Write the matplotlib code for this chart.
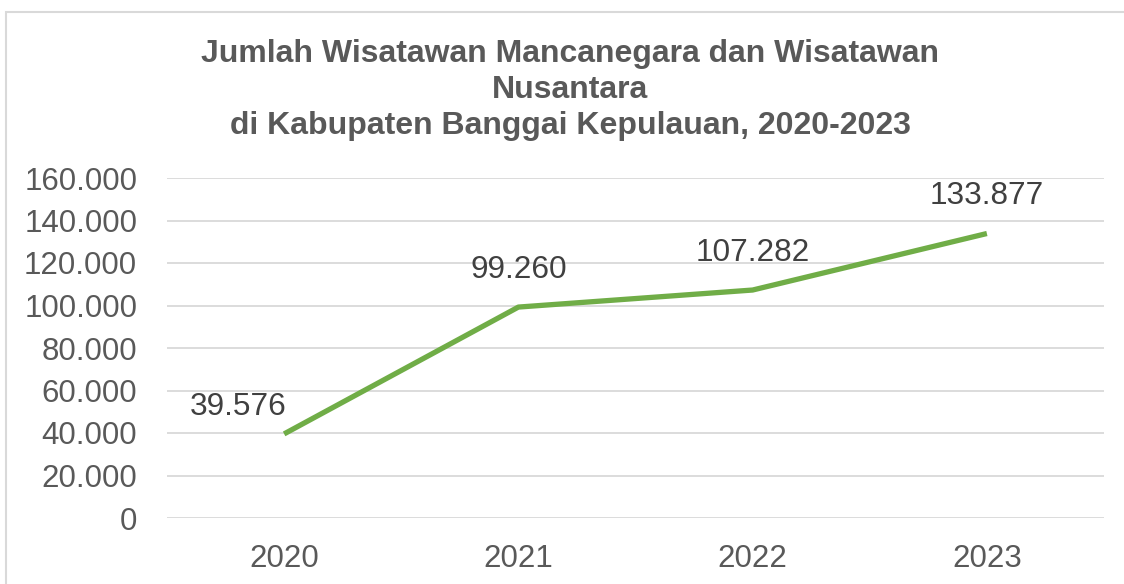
import matplotlib
matplotlib.use("Agg")
import matplotlib.pyplot as plt
from matplotlib.patches import Rectangle
from matplotlib.ticker import FuncFormatter

# data
years = ["2020", "2021", "2022", "2023"]
visitors = [39576, 99260, 107282, 133877]
y_ticks = [0, 20000, 40000, 60000, 80000, 100000, 120000, 140000, 160000]

plt.rcParams['font.family'] = ['Liberation Sans', 'DejaVu Sans']

W, H = 1124, 584
fig = plt.figure(figsize=(W / 100, H / 100), dpi=100)
fig.patch.set_facecolor('white')

# outer chart frame (cut off at right/bottom like the screenshot)
fig.patches.append(Rectangle((6 / W, -0.1), 1.2, 1 - 12 / H + 0.1,
                             transform=fig.transFigure, fill=False,
                             edgecolor='#d9d9d9', linewidth=1.5))

ax = fig.add_axes([167 / W, 1 - 518 / H, (1104 - 167) / W, (518 - 178) / H])

x = list(range(len(years)))
ax.plot(x, visitors, color='#70ad47', linewidth=3.8, solid_capstyle='butt')

def fmt(v, pos=None):
    return f"{int(v):,}".replace(",", ".")

# data labels
offsets = [(-46, 27), (0, 37), (0, 37), (0, 38)]
for xi, v, off in zip(x, visitors, offsets):
    ax.annotate(fmt(v), (xi, v), xytext=off, textcoords='offset pixels',
                ha='center', va='center', fontsize=22.7, color='#404040')

ax.set_xlim(-0.5, 3.5)
ax.set_ylim(0, 160000)
ax.set_yticks(y_ticks)
ax.yaxis.set_major_formatter(FuncFormatter(fmt))
ax.set_xticks(x)
ax.set_xticklabels(years)
ax.grid(axis='y', color='#d9d9d9', linewidth=1.3)
ax.set_axisbelow(True)
for s in ax.spines.values():
    s.set_visible(False)
ax.tick_params(axis='both', length=0, labelsize=22.5, labelcolor='#595959')
ax.tick_params(axis='y', pad=21.5)
ax.tick_params(axis='x', pad=18.5)

fig.text(570 / W, 1 - 90 / H,
         "Jumlah Wisatawan Mancanegara dan Wisatawan\nNusantara\ndi Kabupaten Banggai Kepulauan, 2020-2023",
         ha='center', va='center', fontsize=23, fontweight='bold',
         color='#595959', linespacing=1.25)

fig.savefig("out.png", dpi=100)
